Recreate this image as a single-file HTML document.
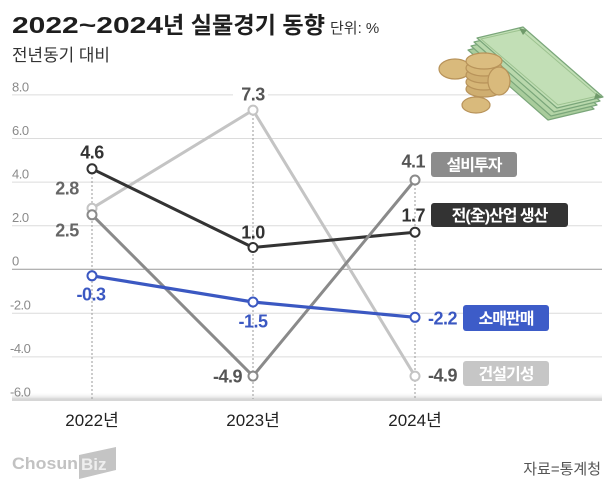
<!DOCTYPE html>
<html><head><meta charset="utf-8"><style>
html,body{margin:0;padding:0;background:#fff;}
svg{display:block;}
text{font-family:"Liberation Sans","Noto Sans CJK KR",sans-serif;}
</style></head><body>
<svg width="616" height="491" viewBox="0 0 616 491" xmlns="http://www.w3.org/2000/svg">
<defs>
<linearGradient id="sh" x1="0" y1="0" x2="0" y2="1">
<stop offset="0" stop-color="#fff" stop-opacity="0"/>
<stop offset="1" stop-color="#d8d8d8"/>
</linearGradient>
</defs>
<rect width="616" height="491" fill="#fff"/>
<!-- title -->
<text x="12" y="33" font-size="23" font-weight="bold" fill="#1e1e1e" textLength="151" lengthAdjust="spacingAndGlyphs">2022~2024</text>
<text x="163" y="33" font-size="23" font-weight="bold" fill="#1e1e1e" textLength="162" lengthAdjust="spacingAndGlyphs">년 실물경기 동향</text>
<text x="330" y="33" font-size="15" fill="#333">단위: %</text>
<text x="12" y="61" font-size="17" fill="#333" textLength="98" lengthAdjust="spacingAndGlyphs">전년동기 대비</text>

<!-- grid -->
<g stroke="#dcdcdc" stroke-width="1">
<line x1="12" x2="233" y1="94.9" y2="94.9"/>
<line x1="268" x2="602" y1="94.9" y2="94.9"/>
<line x1="12" x2="602" y1="138.5" y2="138.5"/>
<line x1="12" x2="602" y1="182.1" y2="182.1"/>
<line x1="12" x2="602" y1="225.7" y2="225.7"/>
<line x1="12" x2="602" y1="313.3" y2="313.3"/>
<line x1="12" x2="602" y1="356.9" y2="356.9"/>
</g>
<line x1="12" x2="602" y1="269.3" y2="269.3" stroke="#999" stroke-width="1"/>
<rect x="12" y="392" width="590" height="7" fill="url(#sh)"/>
<rect x="12" y="398.5" width="590" height="2.5" fill="#d6d6d6"/>

<g font-size="13" fill="#8a8a8a" letter-spacing="-0.5">
<text x="12" y="91.5">8.0</text>
<text x="12" y="135">6.0</text>
<text x="12" y="178.5">4.0</text>
<text x="12" y="222">2.0</text>
<text x="12" y="265.5">0</text>
<text x="10" y="309.5">-2.0</text>
<text x="10" y="353">-4.0</text>
<text x="10" y="396.5">-6.0</text>
</g>

<!-- illustration -->
<g>
<g stroke="#7aa67a" stroke-width="1.2" stroke-linejoin="round">
<polygon points="468,50 514,39 594,109 548,120" fill="#a9cc9c"/>
<polygon points="471,46 517,35 597,105 551,116" fill="#b3d4a6"/>
<polygon points="474,42 520,31 600,101 554,112" fill="#b9d8ac"/>
<polygon points="477,38 523,27 603,97 557,108" fill="#c2dfb6"/>
</g>
<polygon points="481,39 521,30 598,96 558,105" fill="none" stroke="#9cc28f" stroke-width="1"/>
<polygon points="519,28 527,30 523,35" fill="#6f9a6a"/>
<polygon points="596,93 602,97 594,99" fill="#6f9a6a"/>
<g stroke="#b8935a" stroke-width="1.2">
<ellipse cx="455" cy="69" rx="16" ry="10" fill="#d9ba7c"/>
<ellipse cx="484" cy="89" rx="18" ry="8" fill="#cfae70"/>
<ellipse cx="484" cy="82" rx="18" ry="8" fill="#d6b677"/>
<ellipse cx="484" cy="75" rx="18" ry="8" fill="#cfae70"/>
<ellipse cx="484" cy="68" rx="18" ry="8" fill="#d6b677"/>
<ellipse cx="484" cy="61" rx="18" ry="8" fill="#dbbd80"/>
<ellipse cx="499" cy="81" rx="11" ry="14" fill="#d9ba7c"/>
<ellipse cx="476" cy="105" rx="14" ry="8" fill="#d9ba7c"/>
</g>
</g>

<!-- dotted verticals -->
<g stroke="#9a9a9a" stroke-width="1" stroke-dasharray="2,2">
<line x1="92" x2="92" y1="169" y2="399"/>
<line x1="253" x2="253" y1="110" y2="399"/>
<line x1="415" x2="415" y1="180" y2="399"/>
</g>

<!-- series -->
<g fill="none" stroke-width="3" stroke-linejoin="round">
<polyline points="92,208.3 253,110.1 415,376.1" stroke="#c4c4c4"/>
<polyline points="92,168.8 253,247.5 415,232.2" stroke="#333"/>
<polyline points="92,214.8 253,376.1 415,180.0" stroke="#8a8a8a"/>
<polyline points="92,275.8 253,302.0 415,317.3" stroke="#3b58c2" stroke-width="3.2"/>
</g>
<g fill="#fff" stroke-width="2">
<circle cx="92" cy="208.3" r="4.5" stroke="#c4c4c4"/>
<circle cx="253" cy="110.1" r="4.5" stroke="#c4c4c4"/>
<circle cx="415" cy="376.1" r="4.5" stroke="#c4c4c4"/>
<circle cx="92" cy="214.8" r="4.5" stroke="#8a8a8a"/>
<circle cx="253" cy="376.1" r="4.5" stroke="#8a8a8a"/>
<circle cx="415" cy="180.0" r="4.5" stroke="#8a8a8a"/>
<circle cx="92" cy="168.8" r="4.5" stroke="#333"/>
<circle cx="253" cy="247.5" r="4.5" stroke="#333"/>
<circle cx="415" cy="232.2" r="4.5" stroke="#333"/>
<circle cx="92" cy="275.8" r="4.5" stroke="#3b58c2"/>
<circle cx="253" cy="302.0" r="4.5" stroke="#3b58c2"/>
<circle cx="415" cy="317.3" r="4.5" stroke="#3b58c2"/>
</g>

<!-- value labels -->
<g font-size="18" font-weight="bold" letter-spacing="-0.5">
<text x="92" y="158.5" text-anchor="middle" fill="#333">4.6</text>
<text x="67" y="194.5" text-anchor="middle" fill="#666">2.8</text>
<text x="67" y="236.5" text-anchor="middle" fill="#666">2.5</text>
<text x="91" y="300.5" text-anchor="middle" fill="#3b58c2">-0.3</text>
<text x="253" y="100.5" text-anchor="middle" fill="#555">7.3</text>
<text x="253" y="238.5" text-anchor="middle" fill="#333">1.0</text>
<text x="253" y="327.5" text-anchor="middle" fill="#3b58c2">-1.5</text>
<text x="242" y="382.5" text-anchor="end" fill="#555">-4.9</text>
<text x="425" y="167.5" text-anchor="end" fill="#555">4.1</text>
<text x="425" y="221.5" text-anchor="end" fill="#333">1.7</text>
<text x="428" y="324.5" fill="#3b58c2">-2.2</text>
<text x="428" y="381.5" fill="#555">-4.9</text>
</g>

<!-- legend boxes -->
<rect x="431" y="152" width="86" height="25" rx="3" fill="#8c8c8c"/>
<rect x="431" y="203" width="137" height="24" rx="3" fill="#333"/>
<rect x="463" y="305" width="86" height="26" rx="3" fill="#3d5cc8"/>
<rect x="463" y="361" width="86" height="25" rx="3" fill="#c6c6c6"/>
<g font-size="16" font-weight="bold" fill="#fff" text-anchor="middle">
<text x="474" y="170.5" letter-spacing="-1">설비투자</text>
<text x="499.5" y="221" letter-spacing="-1">전(全)산업 생산</text>
<text x="506" y="324" letter-spacing="-1">소매판매</text>
<text x="506" y="379.5" letter-spacing="-1">건설기성</text>
</g>

<!-- x labels -->
<g font-size="17" fill="#222" text-anchor="middle">
<text x="92" y="426">2022년</text>
<text x="253" y="426">2023년</text>
<text x="415" y="426">2024년</text>
</g>

<!-- footer -->
<text x="12" y="469" font-size="17" font-weight="bold" fill="#c2c2c2" textLength="66" lengthAdjust="spacingAndGlyphs">Chosun</text>
<polygon points="79,455 116,447 116,470 79,479" fill="#c4c4c4"/>
<text x="81" y="470" font-size="17" font-weight="bold" fill="#eee">Biz</text>
<text x="601" y="474" font-size="15" fill="#555" text-anchor="end">자료=통계청</text>
</svg>
</body></html>
